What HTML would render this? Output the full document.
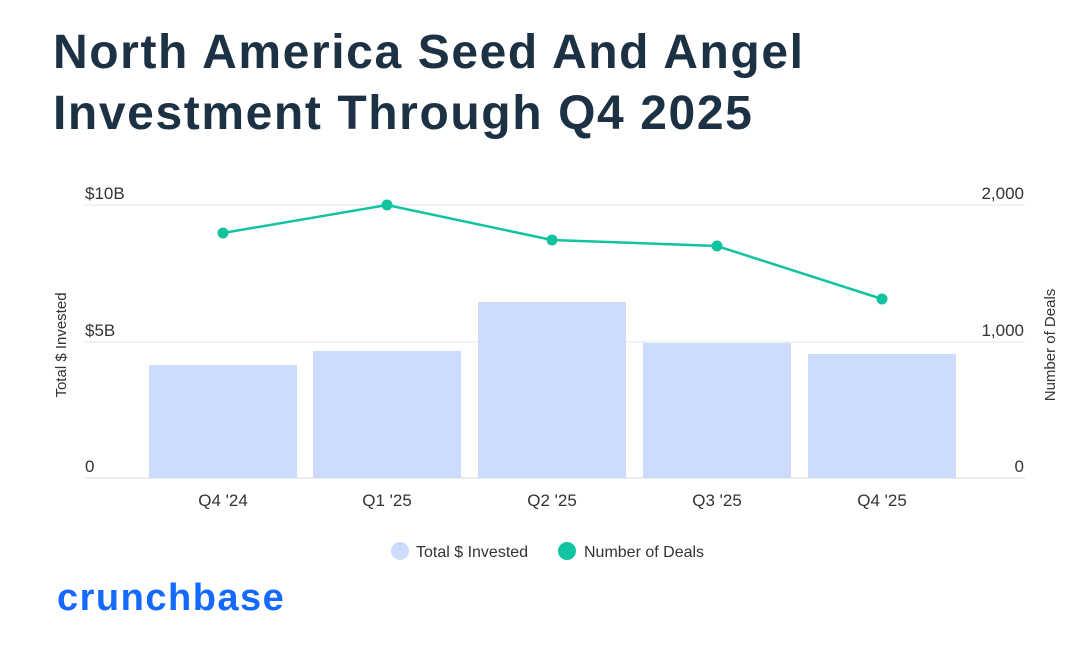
<!DOCTYPE html>
<html><head><meta charset="utf-8"><style>
body{margin:0;width:1086px;height:647px;background:#fff;overflow:hidden;font-family:"Liberation Sans","DejaVu Sans",sans-serif;}
h1{position:absolute;left:53px;top:22px;margin:0;font-size:48px;line-height:61px;font-weight:bold;color:#1c3144;letter-spacing:1.6px;}
</style></head><body>
<h1>North America Seed And Angel<br>Investment Through Q4 2025</h1>
<svg width="1086" height="647" style="position:absolute;left:0;top:0" font-family="Liberation Sans, sans-serif">
<g stroke="#e3e6ea" stroke-width="1">
<line x1="85" y1="205" x2="1025" y2="205"/>
<line x1="85" y1="342" x2="1025" y2="342"/>
</g>
<line x1="85" y1="478" x2="1025" y2="478" stroke="#d5d9de"/>
<g fill="#cddcfd">
<rect x="149" y="365" width="148" height="113"/>
<rect x="313" y="351" width="148" height="127"/>
<rect x="478" y="302" width="148" height="176"/>
<rect x="643" y="343" width="148" height="135"/>
<rect x="808" y="354" width="148" height="124"/>
</g>
<polyline points="223,233 387,205 552,240 717,246 882,299" fill="none" stroke="#12c3a0" stroke-width="2.5"/>
<g fill="#12c3a0">
<circle cx="223" cy="233" r="5.5"/><circle cx="387" cy="205" r="5.5"/><circle cx="552" cy="240" r="5.5"/><circle cx="717" cy="246" r="5.5"/><circle cx="882" cy="299" r="5.5"/>
</g>
<g fill="#333" font-size="17">
<text x="85" y="199">$10B</text>
<text x="85" y="336">$5B</text>
<text x="85" y="472">0</text>
<text x="1024" y="199" text-anchor="end">2,000</text>
<text x="1024" y="336" text-anchor="end">1,000</text>
<text x="1024" y="472" text-anchor="end">0</text>
<g text-anchor="middle">
<text x="223" y="506">Q4 '24</text>
<text x="387" y="506">Q1 '25</text>
<text x="552" y="506">Q2 '25</text>
<text x="717" y="506">Q3 '25</text>
<text x="882" y="506">Q4 '25</text>
</g>
</g>
<text transform="translate(66,345) rotate(-90)" text-anchor="middle" font-size="15" fill="#333">Total $ Invested</text>
<text transform="translate(1055,345) rotate(-90)" text-anchor="middle" font-size="15" fill="#333">Number of Deals</text>
<circle cx="400" cy="551" r="9" fill="#cddcfd"/>
<text x="416" y="557" font-size="16" fill="#333">Total $ Invested</text>
<circle cx="567" cy="551" r="9" fill="#12c3a0"/>
<text x="584" y="557" font-size="16" fill="#333">Number of Deals</text>
<text x="57" y="610" font-size="38" font-weight="bold" fill="#146aff" letter-spacing="1.5">crunchbase</text>
</svg>
</body></html>
